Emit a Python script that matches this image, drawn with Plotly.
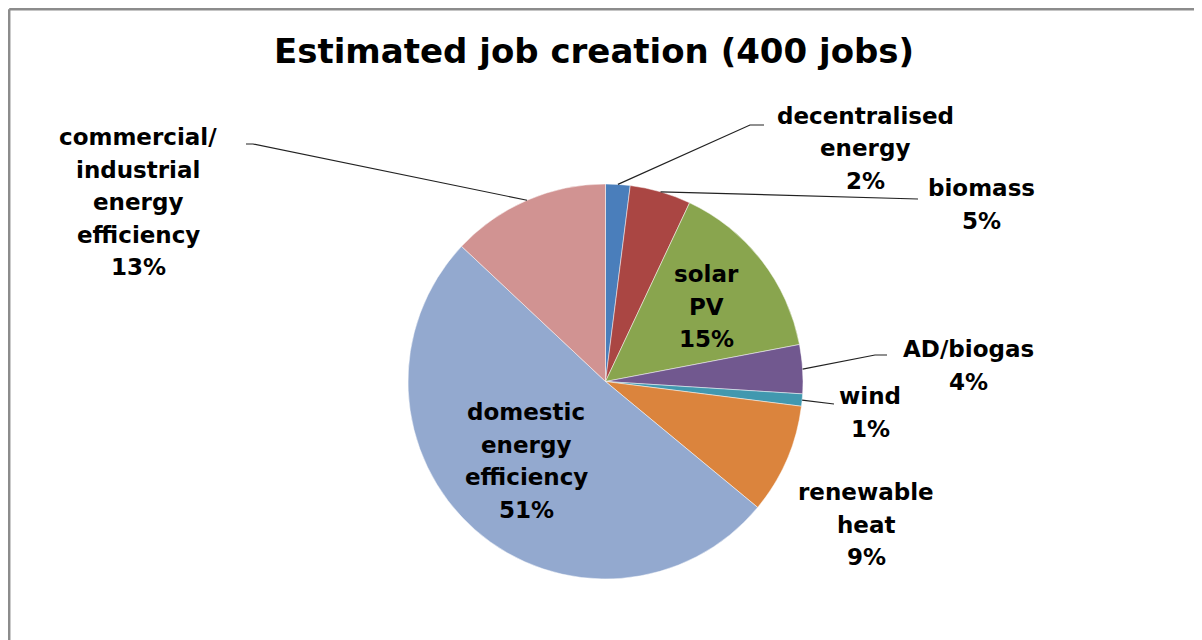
import math
import plotly.graph_objects as go

W, H = 1202, 640
OFF = 8  # page body margin

# ---- data ----
title_text = "Estimated job creation (400 jobs)"
total_jobs = 400
categories = ["decentralised energy", "biomass", "solar PV", "AD/biogas", "wind",
              "renewable heat", "domestic energy efficiency",
              "commercial/ industrial energy efficiency"]
jobs = [8, 20, 60, 16, 4, 36, 204, 52]
label_lines = [["decentralised", "energy"], ["biomass"], ["solar", "PV"], ["AD/biogas"],
               ["wind"], ["renewable", "heat"], ["domestic", "energy", "efficiency"],
               ["commercial/", "industrial", "energy", "efficiency"]]
colors = ["#4A7EBB", "#AA4643", "#89A54E", "#71588F", "#4198AF", "#DB843D",
          "#93A9CF", "#D19392"]

# ---- layout (page pixel positions) ----
cx, cy, R = 605.5, 381.5, 197.5
label_pos = [(865, 116), (982, 188), (706, 274), (968, 349), (870, 396),
             (866, 492), (526, 412), (138, 137)]
line_step = 32.5
leaders = {0: [(750, 125), (764, 125)], 1: [(918, 199)], 3: [(875, 355), (887, 355)],
           4: [(834, 404)], 7: [(253, 144), (246, 144)]}

px = lambda x: (x - OFF) / W
py = lambda y: 1 - (y - OFF) / H

fig = go.Figure(go.Pie(
    labels=categories, values=jobs, sort=False, direction="clockwise", rotation=0,
    textinfo="none", hoverinfo="label+value+percent", showlegend=False,
    marker=dict(colors=colors, line=dict(color="rgba(255,255,255,0.6)", width=0.8)),
    domain=dict(x=[px(cx - R), px(cx + R)], y=[py(cy + R), py(cy - R)]),
))

font = dict(family="DejaVu Sans", size=23, color="black", weight="bold")
annotations = []
shapes = []
cum = 0
for i, v in enumerate(jobs):
    pct = round(v / total_jobs * 100)
    lines = label_lines[i] + [f"{pct}%"]
    lx, ly = label_pos[i]
    for k, t in enumerate(lines):
        annotations.append(dict(x=px(lx), y=py(ly + k * line_step), xref="paper", yref="paper",
                                text=t, showarrow=False, xanchor="center", yanchor="middle",
                                font=font))
    mid = (cum + v / 2) / total_jobs * 2 * math.pi
    cum += v
    if i in leaders:
        ex, ey = cx + R * math.sin(mid), cy - R * math.cos(mid)
        pts = [(ex, ey)] + leaders[i]
        path = "M " + " L ".join(f"{px(a)},{py(b)}" for a, b in pts)
        shapes.append(dict(type="path", path=path, xref="paper", yref="paper",
                           line=dict(color="#222222", width=1.2)))

annotations.append(dict(x=px(594), y=py(51), xref="paper", yref="paper", text=title_text,
                        showarrow=False, xanchor="center", yanchor="middle",
                        font=dict(family="DejaVu Sans", size=34, color="black", weight="bold")))

# chart-area border (top and left edges visible)
shapes.append(dict(type="line", xref="paper", yref="paper", x0=0.001, x1=1.0,
                   y0=0.998, y1=0.998, line=dict(color="#8C8C8C", width=2.5)))
shapes.append(dict(type="line", xref="paper", yref="paper", x0=0.001, x1=0.001,
                   y0=0.998, y1=0.0, line=dict(color="#8C8C8C", width=2.5)))

fig.update_layout(width=W, height=H, margin=dict(l=0, r=0, t=0, b=0),
                  paper_bgcolor="white", plot_bgcolor="white",
                  annotations=annotations, shapes=shapes)
fig.write_html("out.html")
